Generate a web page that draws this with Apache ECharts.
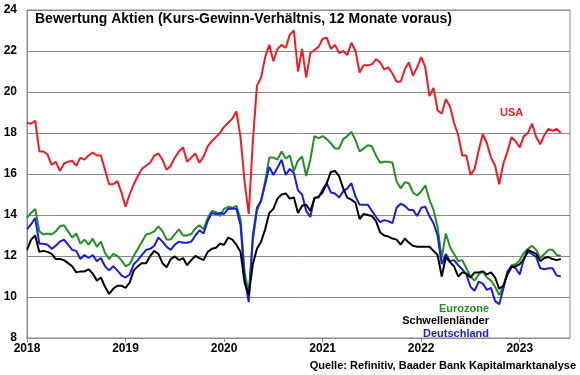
<!DOCTYPE html>
<html>
<head>
<meta charset="utf-8">
<script src="https://cdn.jsdelivr.net/npm/echarts/dist/echarts.min.js"></script>
<style>
  html, body { margin: 0; padding: 0; background: #fff; }
  #chart { width: 580px; height: 375px; }
</style>
</head>
<body>
<div id="chart"></div>
<script>
// KGV 12 Monate voraus, halbmonatliche Werte ab Jan 2018
const startYear = 2018
const step = 1 / 24
const yearTicks = [2018, 2019, 2020, 2021, 2022, 2023]

const usa = [
  18.5, 18.45, 18.6, 17.1, 17.1, 16.95, 16.45, 16.6, 16.15, 16.5, 16.6, 16.65,
  16.4, 16.8, 16.7, 16.9, 17.05, 16.9, 16.9, 16.2, 15.5, 15.5, 15.65, 15.1,
  14.4, 15.0, 15.5, 15.9, 16.25, 16.4, 16.55, 16.9, 17.0, 16.7, 16.2, 16.4,
  16.8, 17.1, 17.3, 16.6, 16.8, 17.0, 16.55, 16.85, 17.35, 17.6, 17.8, 18.0,
  18.3, 18.5, 18.7, 19.05, 17.8, 15.6, 14.05, 17.6, 20.3, 20.7, 21.7, 22.3,
  21.5, 22.1, 22.3, 22.15, 22.8, 23.0, 21.0, 22.1, 20.7, 21.9, 22.05, 22.2,
  22.6, 22.65, 22.1, 22.3, 21.9, 22.0, 21.8, 22.4, 22.0, 20.95, 21.3, 21.3,
  21.35, 21.6, 21.45, 21.1, 21.2, 20.9, 20.5, 20.5, 21.1, 21.45, 20.8, 21.2,
  21.7, 21.2, 19.8, 20.2, 19.1, 18.95, 19.65, 19.3, 18.5, 17.9, 16.9, 16.9,
  15.95, 16.25, 17.15, 17.95, 17.5, 16.8, 16.4, 15.5, 16.5, 17.1, 17.8, 17.6,
  17.3, 17.85, 18.0, 18.45, 17.8, 17.45, 17.9, 18.2, 18.1, 18.2, 18.0
]

const eurozone = [
  13.86, 14.1, 14.3, 13.2, 13.05, 13.1, 13.05, 13.2, 13.45, 13.5, 13.2, 12.9,
  13.1, 12.6, 12.8, 12.55, 12.85, 12.45, 12.7, 12.15, 11.85, 12.1, 12.0, 11.8,
  11.5, 11.6, 12.0, 12.35, 12.7, 13.05, 13.1, 13.2, 13.45, 13.2, 12.8, 12.8,
  13.07, 13.3, 13.0, 13.0, 13.07, 13.35, 13.5, 13.3, 13.85, 14.2, 14.15, 13.95,
  14.3, 14.4, 14.35, 14.45, 13.8, 11.2, 10.2, 12.75, 14.2, 14.7, 15.65, 16.8,
  16.8, 16.7, 17.1, 16.75, 16.9, 16.15, 16.65, 16.85, 15.9, 16.7, 17.85, 17.75,
  17.85, 17.7, 17.5, 17.25, 17.25, 17.7, 17.85, 18.05, 17.65, 17.1, 17.25, 17.4,
  17.35, 16.9, 16.55, 16.6, 16.6, 16.55, 15.65, 15.3, 15.6, 15.55, 15.1, 14.95,
  15.15, 15.45, 14.75, 14.25, 13.4, 11.9, 13.1, 12.45, 12.1, 11.75, 11.8, 11.4,
  11.0, 10.8, 11.1, 11.25, 10.95, 10.8, 10.5, 10.1, 10.5, 11.15, 11.55, 11.6,
  11.8, 12.15, 12.35, 12.5, 12.3, 11.9, 12.1, 12.3, 12.3, 12.05, 12.0
]

const schwellenlaender = [
  12.3, 12.8, 13.0, 12.2, 12.25, 12.2, 12.1, 11.85, 11.85, 11.8, 11.65, 11.5,
  11.2, 11.25, 11.25, 11.35, 11.15, 10.8, 10.95, 10.5, 10.15, 10.4, 10.55, 10.55,
  10.45, 10.7, 11.3, 11.5, 11.65, 11.65, 12.0, 12.25, 12.1, 11.65, 11.45, 11.85,
  11.98, 11.8, 11.9, 11.55, 11.8, 12.0, 11.9, 11.8, 12.2, 12.35, 12.4, 12.6,
  12.55, 12.9, 12.8, 12.55, 12.2, 10.7, 10.1, 11.6, 12.35, 12.7, 13.3, 14.1,
  14.3, 14.8, 15.0, 15.05, 14.8, 14.85, 14.1, 14.45, 14.5, 14.2, 14.8, 14.9,
  15.1, 15.55, 16.1, 16.15, 15.9, 15.3, 14.85, 14.75, 14.6, 13.8, 14.05, 14.0,
  13.95, 13.7, 13.15, 13.0, 12.95, 12.85, 12.8, 12.55, 12.85, 12.65, 12.5, 12.45,
  12.45, 12.45, 12.45, 12.25, 12.05, 11.0, 11.95, 11.7, 11.5, 11.0, 11.2, 11.15,
  10.95, 11.2, 11.2, 11.25, 11.1, 11.2, 10.95, 10.4, 10.55, 11.1, 11.45, 11.5,
  11.6, 11.85, 12.3, 12.2, 12.1, 11.75, 11.9, 11.95, 11.85, 11.8, 11.85
]

const deutschland = [
  13.3, 13.55, 13.85, 12.6, 12.6, 12.55, 12.35, 12.5, 12.7, 12.8, 12.55, 12.3,
  12.25, 11.85, 12.05, 11.9, 12.05, 11.75, 11.9, 11.5, 11.3, 11.5, 11.3, 11.05,
  10.95, 11.1, 11.6, 11.8, 12.05, 12.3, 12.35, 12.5, 12.9, 12.7, 12.45, 12.3,
  12.55, 12.7, 12.65, 12.65, 12.7, 13.0, 13.25, 13.1, 13.7, 14.1, 14.05, 14.1,
  14.05, 14.3, 14.3, 14.3, 13.5, 10.9, 9.75, 13.0, 14.35, 14.7, 15.5, 16.35,
  15.95, 16.3, 16.7, 15.95, 16.25, 16.05, 15.2, 15.0, 14.2, 13.9, 14.85, 14.85,
  15.25, 15.55, 15.1, 15.05, 14.85, 15.15, 15.3, 15.55, 14.9, 14.5, 14.5, 14.5,
  14.2, 13.9, 13.65, 13.75, 13.7, 13.6, 14.35, 14.55, 14.45, 14.25, 14.25, 13.95,
  14.35, 14.4, 13.95, 13.6, 13.0, 11.6, 12.1, 11.75, 11.8, 11.55, 11.35, 11.1,
  10.5, 10.3, 10.75, 10.65, 10.35, 10.45, 9.8, 9.65, 10.4, 11.25, 11.5, 11.4,
  11.1, 11.85, 12.2, 12.1, 11.95, 11.4, 11.35, 11.4, 11.4, 11.05, 11.0
]

const dates = usa.map((_, i) => startYear + i * step)
const pairs = vals => vals.map((v, i) => [dates[i], v])

const font = '"Liberation Sans", Arial, sans-serif'
const gridGray = '#8a8a8a'

const myChart = echarts.init(document.getElementById('chart'))

function line(name, color, data) {
  return {
    name: name,
    type: 'line',
    data: pairs(data),
    showSymbol: false,
    silent: true,
    lineStyle: { color: color, width: 2 },
    itemStyle: { color: color }
  }
}

const option = {
  animation: false,
  backgroundColor: '#fff',
  grid: {
    left: 27, right: 10, top: 10, bottom: 37,
    show: true, borderColor: gridGray, borderWidth: 1
  },
  xAxis: {
    type: 'value',
    min: 2018,
    max: 2023.51,
    interval: 1,
    axisLine: { lineStyle: { color: gridGray } },
    axisTick: { show: true, length: 4, customValues: yearTicks, lineStyle: { color: gridGray } },
    axisLabel: {
      customValues: yearTicks,
      formatter: v => String(v),
      color: '#000', fontWeight: 'bold', fontSize: 12, fontFamily: font, margin: 5
    },
    splitLine: { show: false }
  },
  yAxis: {
    type: 'value',
    min: 8,
    max: 24,
    interval: 2,
    axisLine: { show: true, lineStyle: { color: gridGray } },
    axisTick: { show: false },
    axisLabel: { color: '#000', fontWeight: 'bold', fontSize: 12, fontFamily: font, margin: 10 },
    splitLine: { lineStyle: { color: gridGray, width: 1 } }
  },
  series: [
    line('USA', '#ee1c25', usa),
    line('Eurozone', '#248f24', eurozone),
    line('Deutschland', '#1c1ce0', deutschland),
    line('Schwellenländer', '#000000', schwellenlaender)
  ],
  graphic: [
    {
      type: 'text', left: 35, top: 12,
      style: { text: 'Bewertung Aktien (Kurs-Gewinn-Verhältnis, 12 Monate voraus)', font: 'bold 14px ' + font, fill: '#000' }
    },
    {
      type: 'text', left: 500, top: 107,
      style: { text: 'USA', font: 'bold 11px ' + font, fill: '#ee1c25' }
    },
    {
      type: 'text', right: 91, top: 303,
      style: { text: 'Eurozone', font: 'bold 11px ' + font, fill: '#248f24' }
    },
    {
      type: 'text', right: 91, top: 315,
      style: { text: 'Schwellenländer', font: 'bold 11px ' + font, fill: '#000' }
    },
    {
      type: 'text', right: 91, top: 328,
      style: { text: 'Deutschland', font: 'bold 11px ' + font, fill: '#1c1ce0' }
    },
    {
      type: 'text', right: 4, top: 360,
      style: { text: 'Quelle: Refinitiv, Baader Bank Kapitalmarktanalyse', font: 'bold 11px ' + font, fill: '#000' }
    }
  ]
}

myChart.setOption(option)
</script>
</body>
</html>
